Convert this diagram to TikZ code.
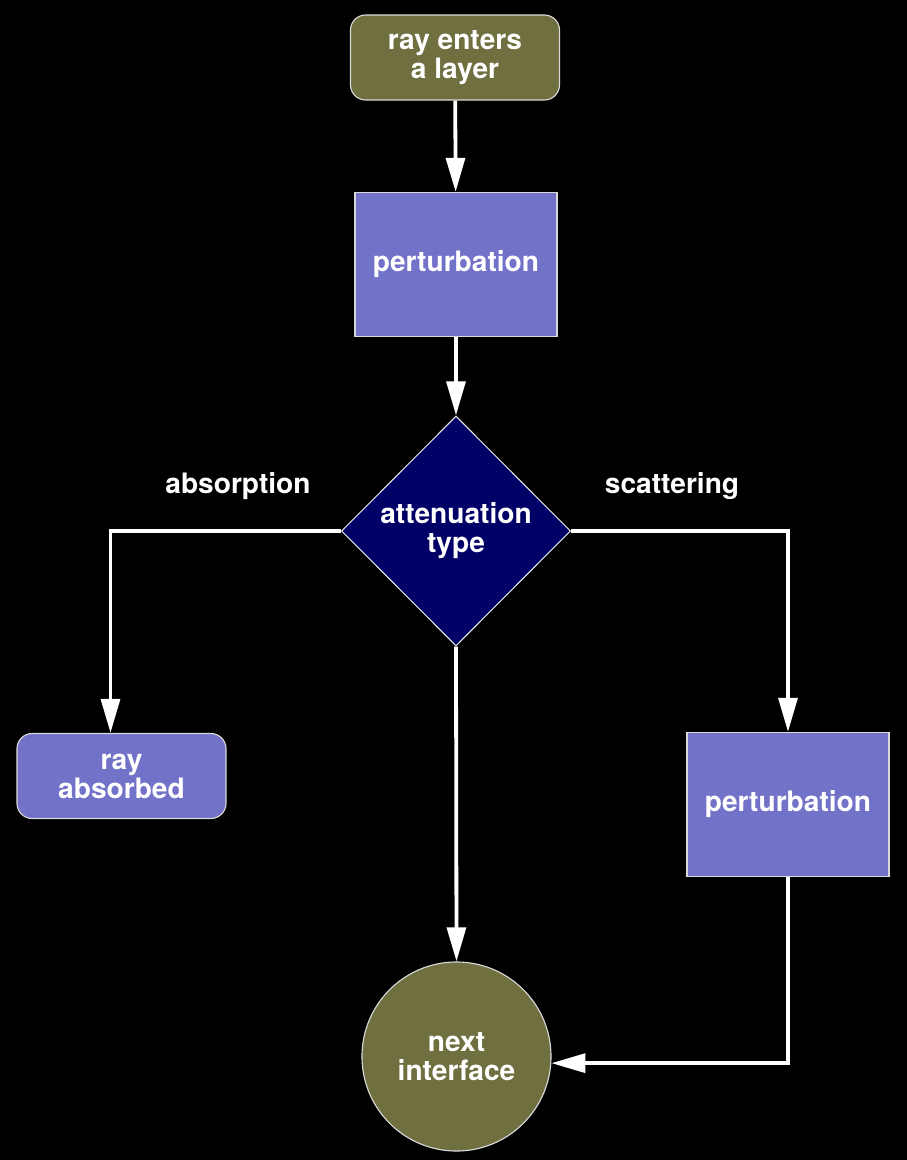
\documentclass[tikz,border=0pt]{standalone}
\usepackage{fontspec}
\setmainfont{TeX Gyre Heros}
\usetikzlibrary{calc,shapes.geometric,arrows.meta}
\definecolor{olivebox}{RGB}{111,111,64}
\definecolor{lavenderbox}{RGB}{114,114,200}
\definecolor{navybox}{RGB}{0,0,102}

\begin{document}
\begin{tikzpicture}[x=0.025cm,y=-0.025cm,
  object/.style={draw=white!85!black,line width=0.8pt,text=white,align=center,inner sep=0pt,font=\fontsize{20}{20.6}\selectfont\bfseries},
  terminal/.style={object,rounded corners=0.38cm,minimum width=5.225cm,minimum height=2.125cm},
  process/.style={object,fill=lavenderbox,minimum width=5.05cm,minimum height=3.6cm},
  decision/.style={object,diamond,aspect=1,fill=navybox,minimum width=5.725cm,minimum height=5.75cm},
  junction/.style={object,circle,fill=olivebox,minimum size=4.725cm},
  tag/.style={text=white,font=\fontsize{20}{20.6}\selectfont\bfseries},
  link/.style={white,line width=2.7pt},
  arrow/.style={link,-{Triangle[length=0.85cm,width=0.47cm]}}]
  \fill[black] (0,0) rectangle (907,1160);

  \node[terminal,fill=olivebox] (entry) at (455,57.5) {ray enters\\a layer};
  \node[process] (perturbation) at ($ (entry) + (1,207) $) {perturbation};
  \node[decision] (attenuation) at ($ (perturbation) + (0,266.5) $) {attenuation\\type};
  \node[terminal,fill=lavenderbox] (absorbed) at (121.5,776) {ray\\absorbed};
  \node[process] (scattered) at (788,804.5) {perturbation};
  \node[junction] (interface) at (456.5,1056.5) {next\\interface};

  \node[tag] (absorption) at (238,486) {absorption};
  \node[tag] (scattering) at (672,486) {scattering};

  \draw[arrow] (entry) -- (perturbation);
  \draw[arrow] (perturbation) -- (attenuation);
  \draw[arrow] (attenuation.west) -| ($ (absorbed.north) + (-11,0) $);
  \draw[arrow] (attenuation.east) -| (scattered.north);
  \draw[arrow] (attenuation.south) -- (interface.north);
  \draw[arrow] (scattered.south) |- (interface.-4);
\end{tikzpicture}
\end{document}
